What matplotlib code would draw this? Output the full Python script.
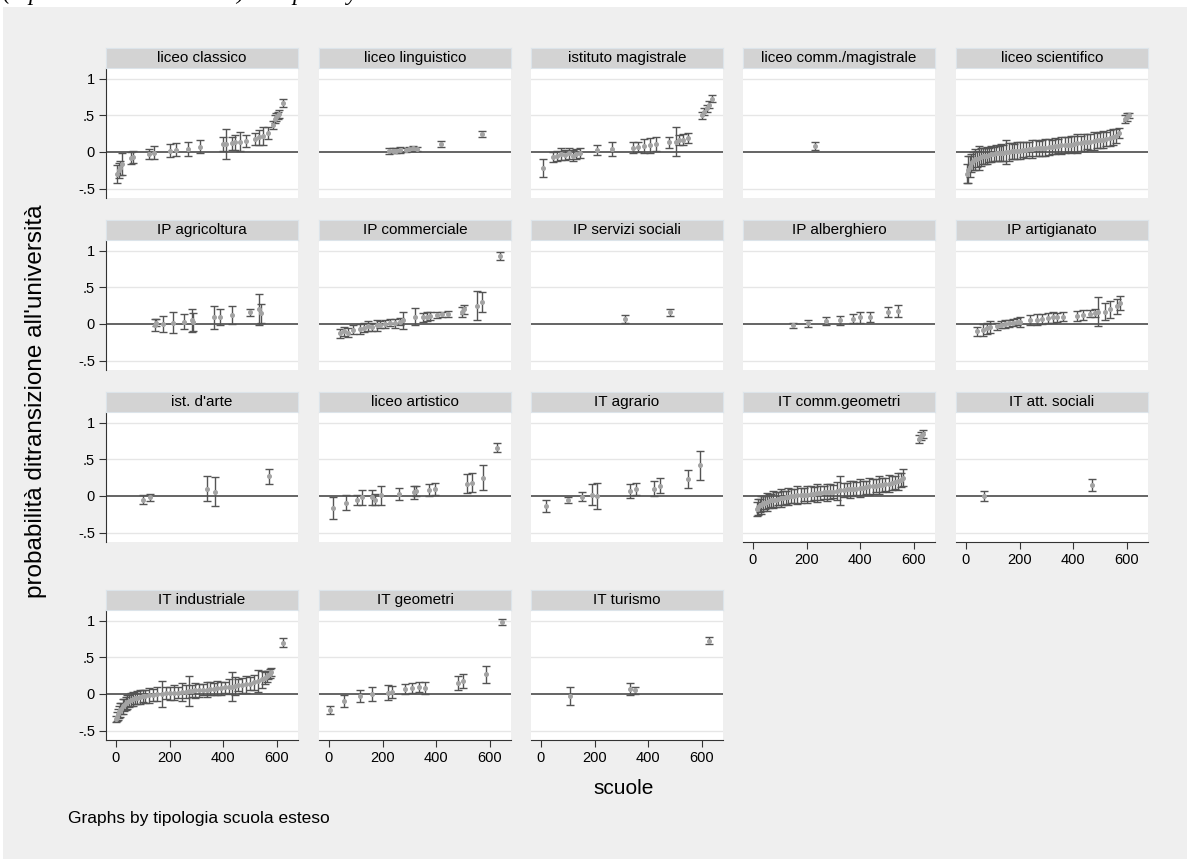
import matplotlib
matplotlib.use("Agg")
import matplotlib.pyplot as plt
from matplotlib.patches import Rectangle

plt.rcParams['font.family'] = ['Liberation Sans', 'DejaVu Sans']

# ---- data: school index (x), estimate (y), half-width of the interval (e) ----
classico_x = [5, 10, 15, 22, 55, 62, 124, 142, 201, 224, 270, 313, 400, 412, 433, 444, 463,
              485, 519, 534, 549, 567, 586, 592, 598, 604, 610, 623]
classico_y = [-0.30, -0.25, -0.22, -0.17, -0.08, -0.07, -0.03, -0.01, 0.02, 0.03, 0.04, 0.07, 0.11,
              0.11, 0.12, 0.13, 0.14, 0.15, 0.18, 0.20, 0.22, 0.26, 0.37, 0.45, 0.48, 0.50, 0.52, 0.67]
classico_e = [0.12, 0.10, 0.10, 0.15, 0.08, 0.08, 0.07, 0.09, 0.09, 0.09, 0.09, 0.09, 0.09,
              0.20, 0.09, 0.10, 0.13, 0.08, 0.08, 0.10, 0.12, 0.08, 0.06, 0.05, 0.05, 0.05, 0.05, 0.05]

linguistico_x = [224, 238, 252, 265, 287, 300, 314, 328, 418, 570]
linguistico_y = [0.01, 0.02, 0.02, 0.03, 0.03, 0.04, 0.05, 0.04, 0.11, 0.25]
linguistico_e = [0.04, 0.04, 0.04, 0.04, 0.03, 0.03, 0.03, 0.03, 0.04, 0.04]

magistrale_x = [9, 45, 60, 75, 90, 105, 118, 132, 146, 209, 265, 343, 362, 384, 406, 429, 478,
                503, 515, 530, 548, 601, 610, 620, 628, 638]
magistrale_y = [-0.22, -0.07, -0.05, -0.03, -0.04, -0.02, -0.05, -0.03, -0.01, 0.03, 0.04, 0.06,
                0.07, 0.08, 0.09, 0.11, 0.13, 0.14, 0.16, 0.17, 0.19, 0.50, 0.55, 0.60, 0.65, 0.73]
magistrale_e = [0.12, 0.07, 0.07, 0.08, 0.07, 0.07, 0.08, 0.07, 0.07, 0.07, 0.09, 0.07,
                0.07, 0.10, 0.10, 0.10, 0.07, 0.20, 0.07, 0.07, 0.07, 0.05, 0.05, 0.05, 0.05, 0.05]

commmag_x = [230]
commmag_y = [0.08]
commmag_e = [0.05]

scient_x = [3, 8, 14, 20, 26, 33, 40, 47, 55, 62, 70, 78, 86, 95, 104, 113, 122, 131, 140, 150,
            160, 170, 180, 190, 200, 212, 224, 236, 248, 260, 272, 284, 296, 308, 320, 332, 344,
            356, 368, 380, 392, 404, 416, 428, 440, 452, 464, 476, 488, 500, 512, 524, 536, 548,
            560, 572, 592, 600, 608]
scient_y = [-0.30, -0.24, -0.20, -0.15, -0.12, -0.10, -0.09, -0.08, -0.07, -0.06, -0.05, -0.05,
            -0.04, -0.03, -0.03, -0.02, -0.02, -0.01, -0.01, 0.00, 0.00, 0.01, 0.01, 0.02, 0.02,
            0.03, 0.03, 0.04, 0.04, 0.05, 0.05, 0.06, 0.06, 0.07, 0.07, 0.08, 0.08, 0.09, 0.09,
            0.10, 0.10, 0.11, 0.12, 0.12, 0.13, 0.14, 0.14, 0.15, 0.16, 0.17, 0.17, 0.18, 0.19,
            0.20, 0.22, 0.26, 0.45, 0.48, 0.50]
scient_e = [0.13, 0.18, 0.14, 0.12, 0.12, 0.14, 0.11, 0.16, 0.12, 0.11, 0.11, 0.12, 0.10, 0.11,
            0.10, 0.11, 0.10, 0.12, 0.11, 0.17, 0.12, 0.11, 0.10, 0.11, 0.12, 0.10, 0.11, 0.10,
            0.12, 0.11, 0.10, 0.11, 0.12, 0.11, 0.10, 0.11, 0.10, 0.12, 0.11, 0.10, 0.12, 0.11,
            0.13, 0.10, 0.11, 0.10, 0.11, 0.12, 0.10, 0.11, 0.12, 0.10, 0.11, 0.11, 0.10, 0.07,
            0.05, 0.05, 0.04]

agricoltura_x = [146, 150, 177, 213, 254, 283, 288, 366, 388, 432, 500, 535, 540]
agricoltura_y = [-0.01, 0.02, 0.00, 0.02, 0.03, 0.05, 0.03, 0.09, 0.09, 0.12, 0.16, 0.20, 0.15]
agricoltura_e = [0.08, 0.05, 0.11, 0.14, 0.10, 0.16, 0.12, 0.16, 0.11, 0.12, 0.05, 0.21, 0.13]

commerciale_x = [41, 55, 70, 90, 116, 130, 145, 160, 179, 190, 210, 228, 246, 265, 276, 321, 351,
                 364, 377, 403, 423, 444, 495, 505, 552, 570, 638]
commerciale_y = [-0.13, -0.10, -0.12, -0.08, -0.07, -0.05, -0.03, -0.04, -0.02, -0.01, 0.00,
                 0.02, 0.01, 0.03, 0.05, 0.10, 0.09, 0.10, 0.11, 0.12, 0.13, 0.14, 0.16, 0.20,
                 0.25, 0.30, 0.93]
commerciale_e = [0.06, 0.06, 0.06, 0.06, 0.07, 0.06, 0.07, 0.06, 0.07, 0.05, 0.06, 0.05, 0.06,
                 0.05, 0.12, 0.12, 0.06, 0.06, 0.06, 0.04, 0.04, 0.04, 0.07, 0.06, 0.20, 0.14,
                 0.05]

servizi_x = [313, 481]
servizi_y = [0.07, 0.16]
servizi_e = [0.05, 0.05]

alberghiero_x = [149, 205, 272, 325, 373, 399, 437, 504, 541]
alberghiero_y = [-0.02, 0.01, 0.04, 0.05, 0.07, 0.09, 0.10, 0.16, 0.18]
alberghiero_e = [0.04, 0.05, 0.06, 0.06, 0.06, 0.08, 0.07, 0.07, 0.08]

artigianato_x = [40, 64, 77, 90, 115, 130, 145, 160, 175, 190, 201, 239, 264, 285, 305, 325,
                 339, 362, 414, 437, 463, 481, 493, 519, 537, 563, 575]
artigianato_y = [-0.10, -0.08, -0.06, -0.04, -0.03, -0.01, 0.00, 0.01, 0.02, 0.03, 0.03, 0.05,
                 0.06, 0.07, 0.08, 0.09, 0.09, 0.10, 0.11, 0.12, 0.14, 0.15, 0.17, 0.17, 0.20,
                 0.24, 0.29]
artigianato_e = [0.06, 0.08, 0.08, 0.08, 0.05, 0.05, 0.05, 0.05, 0.05, 0.05, 0.07, 0.07, 0.07,
                 0.07, 0.07, 0.07, 0.06, 0.06, 0.07, 0.07, 0.05, 0.05, 0.20, 0.12, 0.12, 0.10,
                 0.10]

arte_x = [101, 127, 340, 369, 571]
arte_y = [-0.05, -0.02, 0.10, 0.06, 0.27]
arte_e = [0.06, 0.05, 0.17, 0.20, 0.10]

artistico_x = [15, 63, 104, 123, 160, 170, 193, 262, 318, 326, 373, 395, 514, 533, 574, 627]
artistico_y = [-0.17, -0.09, -0.06, -0.02, -0.02, -0.05, 0.01, 0.03, 0.05, 0.07, 0.08, 0.10,
               0.17, 0.18, 0.25, 0.66]
artistico_e = [0.15, 0.10, 0.07, 0.10, 0.10, 0.08, 0.13, 0.08, 0.09, 0.07, 0.08, 0.08,
               0.13, 0.13, 0.17, 0.06]

agrario_x = [19, 101, 153, 190, 209, 332, 354, 422, 444, 549, 593]
agrario_y = [-0.14, -0.05, -0.01, 0.02, 0.00, 0.07, 0.10, 0.10, 0.14, 0.23, 0.42]
agrario_e = [0.08, 0.04, 0.06, 0.14, 0.18, 0.10, 0.08, 0.10, 0.10, 0.12, 0.20]

commgeo_x = [15, 20, 25, 30, 38, 45, 52, 60, 68, 76, 85, 94, 103, 112, 122, 132, 142, 152, 165,
             178, 190, 202, 215, 228, 240, 252, 264, 276, 288, 300, 312, 325, 338, 350, 362,
             374, 386, 398, 410, 422, 434, 446, 458, 470, 482, 494, 506, 518, 530, 542, 552,
             560, 620, 628, 635]
commgeo_y = [-0.18, -0.15, -0.13, -0.12, -0.10, -0.09, -0.08, -0.07, -0.06, -0.05, -0.05,
             -0.04, -0.03, -0.03, -0.02, -0.01, 0.00, 0.00, 0.01, 0.01, 0.02, 0.02, 0.03, 0.03,
             0.04, 0.04, 0.05, 0.05, 0.06, 0.06, 0.07, 0.08, 0.08, 0.09, 0.09, 0.10, 0.10, 0.11,
             0.11, 0.12, 0.13, 0.13, 0.14, 0.15, 0.15, 0.16, 0.17, 0.18, 0.19, 0.20, 0.22, 0.25,
             0.78, 0.82, 0.85]
commgeo_e = [0.10, 0.11, 0.09, 0.12, 0.10, 0.09, 0.12, 0.10, 0.09, 0.12, 0.10, 0.09, 0.12,
             0.10, 0.09, 0.12, 0.10, 0.09, 0.12, 0.10, 0.09, 0.12, 0.10, 0.09, 0.12, 0.10,
             0.09, 0.12, 0.10, 0.09, 0.12, 0.20, 0.10, 0.09, 0.12, 0.10, 0.09, 0.12, 0.10,
             0.09, 0.12, 0.10, 0.09, 0.12, 0.10, 0.09, 0.12, 0.10, 0.09, 0.12, 0.10, 0.12,
             0.05, 0.05, 0.05]

sociali_x = [67, 470]
sociali_y = [0.00, 0.15]
sociali_e = [0.07, 0.08]

industriale_x = [0, 4, 8, 12, 16, 20, 25, 30, 36, 42, 48, 55, 62, 70, 80, 90, 100, 110, 125,
                 140, 155, 170, 185, 200, 215, 230, 245, 260, 272, 284, 296, 310, 325, 340, 352,
                 364, 376, 390, 405, 420, 432, 444, 456, 470, 485, 500, 515, 530, 545, 555, 562,
                 568, 574, 580, 623]
industriale_y = [-0.34, -0.31, -0.28, -0.25, -0.22, -0.20, -0.17, -0.15, -0.13, -0.11, -0.10,
                 -0.08, -0.07, -0.06, -0.05, -0.04, -0.03, -0.03, -0.02, -0.01, 0.00, 0.00,
                 0.01, 0.01, 0.02, 0.02, 0.03, 0.03, 0.04, 0.04, 0.05, 0.05, 0.06, 0.06, 0.07,
                 0.07, 0.08, 0.08, 0.09, 0.10, 0.10, 0.11, 0.12, 0.12, 0.13, 0.14, 0.16, 0.18,
                 0.20, 0.22, 0.24, 0.26, 0.28, 0.30, 0.70]
industriale_e = [0.04, 0.06, 0.08, 0.08, 0.09, 0.08, 0.10, 0.08, 0.09, 0.10, 0.08, 0.09,
                 0.10, 0.08, 0.09, 0.10, 0.08, 0.09, 0.10, 0.08, 0.09, 0.18, 0.08, 0.09, 0.10,
                 0.08, 0.12, 0.09, 0.20, 0.08, 0.10, 0.09, 0.08, 0.10, 0.09, 0.08, 0.10, 0.09,
                 0.08, 0.10, 0.20, 0.12, 0.08, 0.10, 0.12, 0.09, 0.10, 0.15, 0.12, 0.08, 0.07,
                 0.06, 0.06, 0.06, 0.06]

geometri_x = [4, 56, 116, 160, 220, 235, 284, 310, 335, 358, 480, 500, 585, 645]
geometri_y = [-0.22, -0.10, -0.03, 0.00, 0.02, 0.03, 0.07, 0.08, 0.10, 0.08, 0.15, 0.18, 0.27,
              0.99]
geometri_e = [0.06, 0.08, 0.08, 0.10, 0.10, 0.08, 0.07, 0.07, 0.07, 0.08, 0.10, 0.10, 0.12,
              0.04]

turismo_x = [107, 332, 351, 627]
turismo_y = [-0.03, 0.07, 0.05, 0.73]
turismo_e = [0.12, 0.08, 0.05, 0.05]

titles = ["liceo classico", "liceo linguistico", "istituto magistrale", "liceo comm./magistrale",
          "liceo scientifico", "IP agricoltura", "IP commerciale", "IP servizi sociali",
          "IP alberghiero", "IP artigianato", "ist. d'arte", "liceo artistico", "IT agrario",
          "IT comm.geometri", "IT att. sociali", "IT industriale", "IT geometri", "IT turismo"]
series = [(classico_x, classico_y, classico_e), (linguistico_x, linguistico_y, linguistico_e),
          (magistrale_x, magistrale_y, magistrale_e), (commmag_x, commmag_y, commmag_e),
          (scient_x, scient_y, scient_e), (agricoltura_x, agricoltura_y, agricoltura_e),
          (commerciale_x, commerciale_y, commerciale_e), (servizi_x, servizi_y, servizi_e),
          (alberghiero_x, alberghiero_y, alberghiero_e), (artigianato_x, artigianato_y, artigianato_e),
          (arte_x, arte_y, arte_e), (artistico_x, artistico_y, artistico_e),
          (agrario_x, agrario_y, agrario_e), (commgeo_x, commgeo_y, commgeo_e),
          (sociali_x, sociali_y, sociali_e), (industriale_x, industriale_y, industriale_e),
          (geometri_x, geometri_y, geometri_e), (turismo_x, turismo_y, turismo_e)]

x_ticks = [0, 200, 400, 600]
y_ticks = [1, 0.5, 0, -0.5]
y_ticklabels = ['1', '.5', '0', '-.5']

# ---- layout (pixels) ----
W, H = 1187, 859
col_left = [106, 319, 531, 743, 956]
row_top = [68, 240, 412, 610]
pw, ph, strip_h = 192, 130, 20

BG = '#efefef'
fig = plt.figure(figsize=(W / 100, H / 100), dpi=100, facecolor='white')
fig.patches.append(Rectangle((3 / W, 0), 1 - 3 / W, 1 - 7 / H, transform=fig.transFigure,
                             facecolor=BG, edgecolor='none', zorder=-10))

# caption line of the page above the graph, cut at the top edge (only descenders show)
for px, ch in [(2, '('), (28, 'p'), (236, ')'), (292, 'p'), (347, 'y')]:
    fig.text(px / W, 1 + 0.5 / H, ch, fontsize=17, family='Liberation Serif',
             style='italic', va='baseline', ha='left')


def px_axes(left, top, w, h):
    return fig.add_axes([left / W, 1 - (top + h) / H, w / W, h / H])


for i, (title, (xs, ys, es)) in enumerate(zip(titles, series)):
    r, c = divmod(i, 5)
    ax = px_axes(col_left[c], row_top[r], pw, ph)
    ax.set_facecolor('white')
    ax.set_xlim(-37, 679)
    ax.set_ylim(-0.63, 1.15)
    for g in (1, 0.5, -0.5):
        ax.axhline(g, color='#e6e6e6', lw=1.0, zorder=0)
    ax.axhline(0, color='#4a4a4a', lw=1.2, zorder=1)
    ax.errorbar(xs, ys, yerr=es, fmt='o', ms=2.6, mfc='#a3a3a3', mec='#a3a3a3',
                ecolor='#545454', elinewidth=1.0, capsize=3, capthick=1.0, zorder=2)

    show_y = c == 0
    show_x = (r == 3) or (r == 2 and c >= 3)
    for s in ax.spines.values():
        s.set_visible(False)
    ax.tick_params(labelsize=10.5, length=5, width=0.8, color='#333333', pad=3)
    if show_y:
        ax.spines['left'].set_visible(True)
        ax.spines['left'].set_color('#333333')
        ax.set_yticks(y_ticks)
        ax.set_yticklabels(y_ticklabels)
    else:
        ax.set_yticks([])
    if show_x:
        ax.spines['bottom'].set_visible(True)
        ax.spines['bottom'].set_color('#333333')
        ax.set_xticks(x_ticks)
    else:
        ax.set_xticks([])

    sax = px_axes(col_left[c], row_top[r] - strip_h, pw, strip_h)
    sax.set_facecolor('#d3d3d3')
    sax.set_xticks([])
    sax.set_yticks([])
    for s in sax.spines.values():
        s.set_color('#dce4ea')
        s.set_linewidth(0.8)
    sax.text(0.5, 0.5, title, ha='center', va='center', fontsize=11, transform=sax.transAxes)

fig.text(36 / W, 1 - 401 / H, "probabilità ditransizione all'università", rotation=90,
         ha='center', va='center', fontsize=17.5)
fig.text(624 / W, 1 - 788 / H, "scuole", ha='center', va='center', fontsize=15)
fig.text(68 / W, 1 - 818 / H, "Graphs by tipologia scuola esteso", ha='left', va='center',
         fontsize=12.5)

fig.savefig("out.png", dpi=100, facecolor=fig.get_facecolor())
